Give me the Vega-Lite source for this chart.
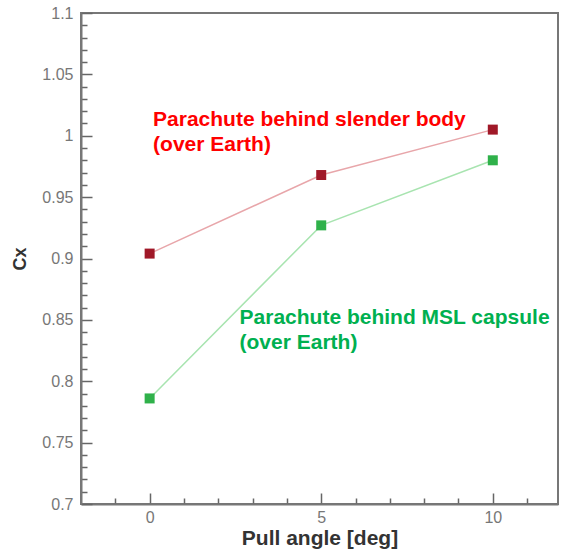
{
  "$schema": "https://vega.github.io/schema/vega-lite/v6.json",
  "autosize": "none",
  "width": 477,
  "height": 491,
  "padding": {"left": 81, "top": 13, "right": 4, "bottom": 49},
  "background": "white",
  "config": {
    "view": {"stroke": "#777", "strokeWidth": 2},
    "font": "Liberation Sans"
  },
  "datasets": {
    "pts": [
      {"angle": 0, "cx": 0.904, "series": "slender"},
      {"angle": 5, "cx": 0.968, "series": "slender"},
      {"angle": 10, "cx": 1.005, "series": "slender"},
      {"angle": 0, "cx": 0.786, "series": "msl"},
      {"angle": 5, "cx": 0.927, "series": "msl"},
      {"angle": 10, "cx": 0.980, "series": "msl"}
    ],
    "labels": [
      {"angle": 0.1, "cx": 1.0128, "text": "Parachute behind slender body", "series": "slender"},
      {"angle": 0.1, "cx": 0.9924, "text": "(over Earth)", "series": "slender"},
      {"angle": 2.62, "cx": 0.8515, "text": "Parachute behind MSL capsule", "series": "msl"},
      {"angle": 2.62, "cx": 0.8311, "text": "(over Earth)", "series": "msl"}
    ]
  },
  "encoding": {
    "x": {
      "field": "angle", "type": "quantitative",
      "scale": {"domain": [-2, 11.9], "nice": false, "zero": false},
      "axis": {
        "title": "Pull angle [deg]",
        "values": [-1, 0, 1, 2, 3, 4, 5, 6, 7, 8, 9, 10, 11],
        "labelExpr": "datum.value % 5 == 0 ? datum.label : ''",
        "tickSize": {"condition": {"test": "datum.value % 5 == 0", "value": -11}, "value": -6},
        "tickColor": "#666", "tickWidth": 1.5,
        "domainColor": "#777", "domainWidth": 2,
        "labelPadding": 16, "labelFontSize": 16, "labelColor": "#777",
        "titleFontSize": 21, "titleFontWeight": "bold", "titleColor": "#333", "titlePadding": 2,
        "grid": false
      }
    },
    "y": {
      "field": "cx", "type": "quantitative",
      "scale": {"domain": [0.7, 1.1], "nice": false, "zero": false},
      "axis": {
        "title": "Cx",
        "format": "~g",
        "values": [0.7,0.71,0.72,0.73,0.74,0.75,0.76,0.77,0.78,0.79,0.8,0.81,0.82,0.83,0.84,0.85,0.86,0.87,0.88,0.89,0.9,0.91,0.92,0.93,0.94,0.95,0.96,0.97,0.98,0.99,1,1.01,1.02,1.03,1.04,1.05,1.06,1.07,1.08,1.09,1.1],
        "labelExpr": "abs(datum.value*20 - round(datum.value*20)) < 0.001 ? datum.label : ''",
        "tickSize": {"condition": {"test": "abs(datum.value*20 - round(datum.value*20)) < 0.001", "value": -11}, "value": -6},
        "tickColor": "#666", "tickWidth": 1.5,
        "domainColor": "#777", "domainWidth": 2,
        "labelPadding": 19, "labelFontSize": 16, "labelColor": "#777",
        "titleFontSize": 18, "titleFontWeight": "bold", "titleColor": "#333", "titlePadding": 12,
        "grid": false
      }
    }
  },
  "layer": [
    {
      "data": {"name": "pts"},
      "mark": {"type": "line", "strokeWidth": 1.5},
      "encoding": {
        "detail": {"field": "series"},
        "color": {"field": "series", "type": "nominal", "scale": {"domain": ["slender", "msl"], "range": ["#e8a6aa", "#a8e4b0"]}, "legend": null}
      }
    },
    {
      "data": {"name": "pts"},
      "mark": {"type": "square", "size": 100, "opacity": 1, "filled": true},
      "encoding": {
        "color": {"field": "series", "type": "nominal", "scale": {"domain": ["slender", "msl"], "range": ["#a01828", "#2fb14a"]}, "legend": null}
      }
    },
    {
      "data": {"name": "labels"},
      "mark": {"type": "text", "align": "left", "baseline": "middle", "fontSize": 21, "fontWeight": "bold", "font": "Liberation Sans"},
      "encoding": {
        "text": {"field": "text"},
        "color": {"field": "series", "type": "nominal", "scale": {"domain": ["slender", "msl"], "range": ["#ff0000", "#00b050"]}, "legend": null}
      }
    }
  ],
  "resolve": {"scale": {"color": "independent"}}
}
